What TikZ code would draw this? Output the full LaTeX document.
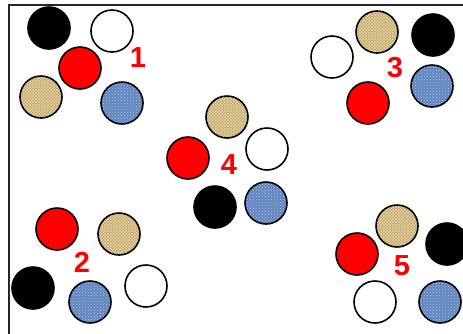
\documentclass[tikz,border=0pt]{standalone}
\usepackage{fontspec}
\setmainfont{Liberation Sans}
\usetikzlibrary{patterns}
\definecolor{tanc}{RGB}{186,156,98}
\definecolor{tanl}{RGB}{236,218,170}
\definecolor{bluec}{RGB}{96,132,190}
\definecolor{bluel}{RGB}{180,205,238}
\definecolor{redc}{RGB}{255,0,0}
\tikzset{
  disc/.style={circle, draw=black, line width=1.6pt, minimum size=42pt, inner sep=0pt},
  blackd/.style={disc, fill=black},
  whited/.style={disc, fill=white},
  redd/.style={disc, fill=redc},
  tand/.style={disc, preaction={fill=tanc}, pattern=crosshatch, pattern color=tanl},
  blued/.style={disc, preaction={fill=bluec}, pattern=crosshatch dots, pattern color=bluel},
  num/.style={text=redc, font=\bfseries\fontsize{29}{29}\selectfont, inner sep=0pt}
}
\begin{document}
\begin{tikzpicture}[x=1pt,y=-1pt]
\useasboundingbox (0,0) rectangle (463,333);
\fill[white] (0,0) rectangle (463,333);
\draw[line width=2pt, black!85] (9,340) -- (9,5) -- (470,5);
% group 1
\node[blackd] (k1) at (49,28) {};
\node[whited] (w1) at (112,31) {};
\node[redd] (r1) at (80,68) {};
\node[tand] (t1) at (41,97) {};
\node[blued] (b1) at (122,103) {};
\node[num] (n1) at (138,58) {1};
% group 3
\node[tand] (t3) at (377,32) {};
\node[blackd] (k3) at (433,35) {};
\node[whited] (w3) at (332,57) {};
\node[blued] (b3) at (432,86) {};
\node[redd] (r3) at (368,103) {};
\node[num] (n3) at (395,68) {3};
% group 4
\node[tand] (t4) at (227,117) {};
\node[whited] (w4) at (267,149) {};
\node[redd] (r4) at (188,158) {};
\node[blackd] (k4) at (215,207) {};
\node[blued] (b4) at (266,203) {};
\node[num] (n4) at (229,165) {4};
% group 2
\node[redd] (r2) at (57,229) {};
\node[tand] (t2) at (119,234) {};
\node[blackd] (k2) at (33,288) {};
\node[blued] (b2) at (90,302) {};
\node[whited] (w2) at (146,286) {};
\node[num] (n2) at (82,262) {2};
% group 5
\node[tand] (t5) at (397,226) {};
\node[blackd] (k5) at (447,244) {};
\node[redd] (r5) at (357,254) {};
\node[whited] (w5) at (375,302) {};
\node[blued] (b5) at (440,302) {};
\node[num] (n5) at (402,266) {5};
\end{tikzpicture}
\end{document}
